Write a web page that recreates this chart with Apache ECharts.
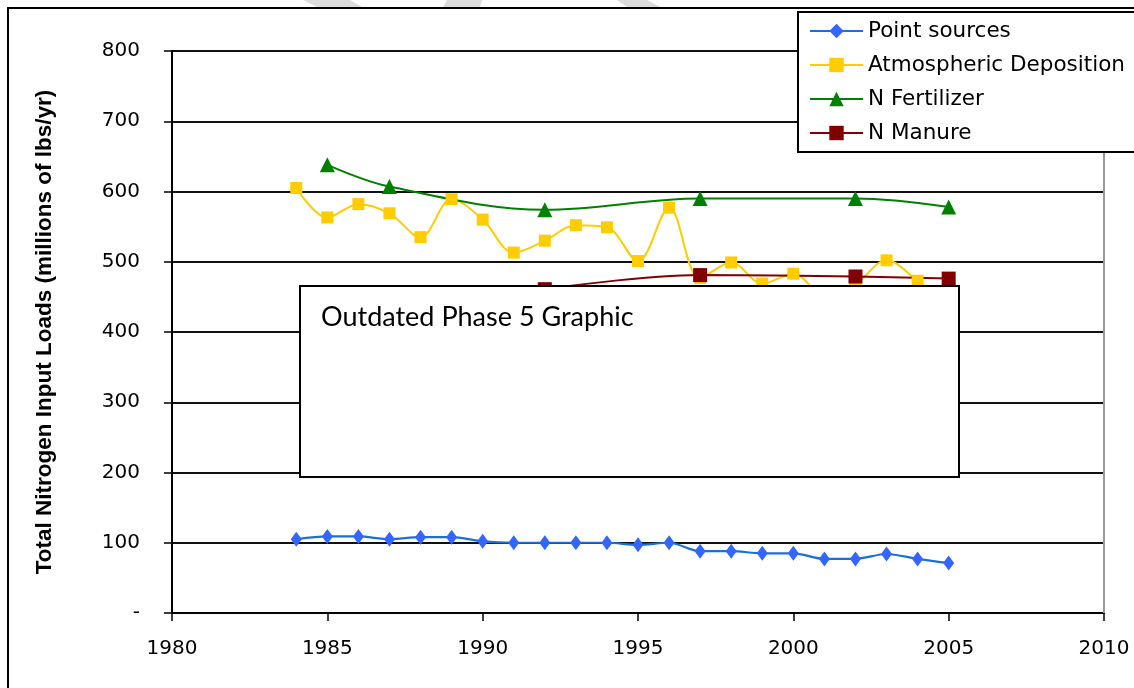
<!DOCTYPE html>
<html>
<head>
<meta charset="utf-8">
<script src="https://cdn.jsdelivr.net/npm/echarts@6/dist/echarts.min.js"></script>
<style>
html,body{margin:0;padding:0;background:#fff;}
#c{width:1134px;height:688px;}
</style>
</head>
<body>
<div id="c"></div>
<script>
const yearsAll = [1984,1985,1986,1987,1988,1989,1990,1991,1992,1993,1994,1995,1996,1997,1998,1999,2000,2001,2002,2003,2004,2005];
const pointSources = [105,109,109,105,108,108,102,100,100,100,100,97,100,88,88,85,85,77,77,84,77,71];
const atmDeposition = [605,563,582,569,535,589,560,513,530,552,549,501,577,477,499,469,483,452,468,502,473,440];
const fertYears = [1985,1987,1992,1997,2002,2005];
const fertilizer = [638,607,574,590,590,578];
const manureYears = [1992,1997,2002,2005];
const manure = [461,481,479,476];
const xTicks = [1980,1985,1990,1995,2000,2005,2010];
const yTickLabels = ['-','100','200','300','400','500','600','700','800'];

const pairs = (xs, ys) => xs.map((x, i) => [x, ys[i]]);

const chart = echarts.init(document.getElementById('c'), null, {renderer: 'canvas'});
const lblFont = {color: '#000', fontFamily: 'DejaVu Sans', fontSize: 20};

chart.setOption({
  animation: false,
  backgroundColor: '#fff',
  grid: {left: 172, right: 30, top: 51, bottom: 75, containLabel: false},
  xAxis: {
    type: 'value', min: xTicks[0], max: xTicks[xTicks.length - 1], interval: 5,
    axisLine: {show: true, lineStyle: {color: '#000', width: 2}},
    axisTick: {show: true, length: 8, lineStyle: {color: '#000', width: 1.5}},
    axisLabel: Object.assign({margin: 26, formatter: v => String(v)}, lblFont),
    splitLine: {show: false}
  },
  yAxis: {
    type: 'value', min: 0, max: 800, interval: 100,
    name: 'Total Nitrogen Input Loads (millions of lbs/yr)',
    nameLocation: 'middle', nameGap: 116,
    nameTextStyle: {fontFamily: 'Liberation Sans', fontWeight: 'bold', fontSize: 22.5, color: '#000'},
    axisLine: {show: true, lineStyle: {color: '#000', width: 2}},
    axisTick: {show: true, length: 8, lineStyle: {color: '#000', width: 1.5}},
    axisLabel: Object.assign({margin: 32, formatter: v => yTickLabels[Math.round(v / 100)]}, lblFont),
    splitLine: {show: true, lineStyle: {color: '#111', width: 1.8}}
  },
  legend: {
    orient: 'vertical', left: 798, top: 12,
    padding: [7, 60, 7, 11],
    backgroundColor: '#fff', borderColor: '#000', borderWidth: 2, borderRadius: 0,
    itemWidth: 53, itemHeight: 18, itemGap: 10,
    textStyle: {fontFamily: 'DejaVu Sans', fontSize: 21.5, color: '#000', lineHeight: 24},
    data: ['Point sources', 'Atmospheric Deposition', 'N Fertilizer', 'N Manure']
  },
  series: [
    {
      name: 'Point sources', type: 'line', smooth: 0.3,
      data: pairs(yearsAll, pointSources),
      symbol: 'diamond', symbolSize: [11, 15],
      lineStyle: {color: '#1a6fd8', width: 2.2},
      itemStyle: {color: '#3366FF'}
    },
    {
      name: 'Atmospheric Deposition', type: 'line', smooth: 0.35,
      data: pairs(yearsAll, atmDeposition),
      symbol: 'rect', symbolSize: 12,
      lineStyle: {color: '#FFCC00', width: 2},
      itemStyle: {color: '#FFCC00'}
    },
    {
      name: 'N Fertilizer', type: 'line', smooth: 0.35,
      data: pairs(fertYears, fertilizer),
      symbol: 'triangle', symbolSize: 15,
      lineStyle: {color: '#008000', width: 2},
      itemStyle: {color: '#008000'}
    },
    {
      name: 'N Manure', type: 'line', smooth: 0.35,
      data: pairs(manureYears, manure),
      symbol: 'rect', symbolSize: 14,
      lineStyle: {color: '#800000', width: 2},
      itemStyle: {color: '#800000'}
    }
  ],
  graphic: [
    {type: 'polygon', z: 0, shape: {points: [[303,0],[350,0],[362,7],[317,7]]}, style: {fill: '#dcdcdc'}},
    {type: 'polygon', z: 0, shape: {points: [[447,0],[482,0],[480,7],[443,7]]}, style: {fill: '#dcdcdc'}},
    {type: 'polygon', z: 0, shape: {points: [[617,0],[647,0],[660,7],[627,7]]}, style: {fill: '#dcdcdc'}},
    {type: 'rect', z: 1, shape: {x: 8, y: 8, width: 1140, height: 700}, style: {fill: 'none', stroke: '#000', lineWidth: 2}},
    {type: 'line', z: 1, shape: {x1: 1104, y1: 51, x2: 1104, y2: 613}, style: {stroke: '#9a9a9a', lineWidth: 2}},
    {type: 'rect', z: 100, shape: {x: 300, y: 286, width: 659, height: 191}, style: {fill: '#fff', stroke: '#000', lineWidth: 2}},
    {type: 'text', z: 101, x: 321, y: 317, style: {text: 'Outdated Phase 5 Graphic', fill: '#000', font: '27px Lato', textVerticalAlign: 'middle'}}
  ]
});
</script>
</body>
</html>
